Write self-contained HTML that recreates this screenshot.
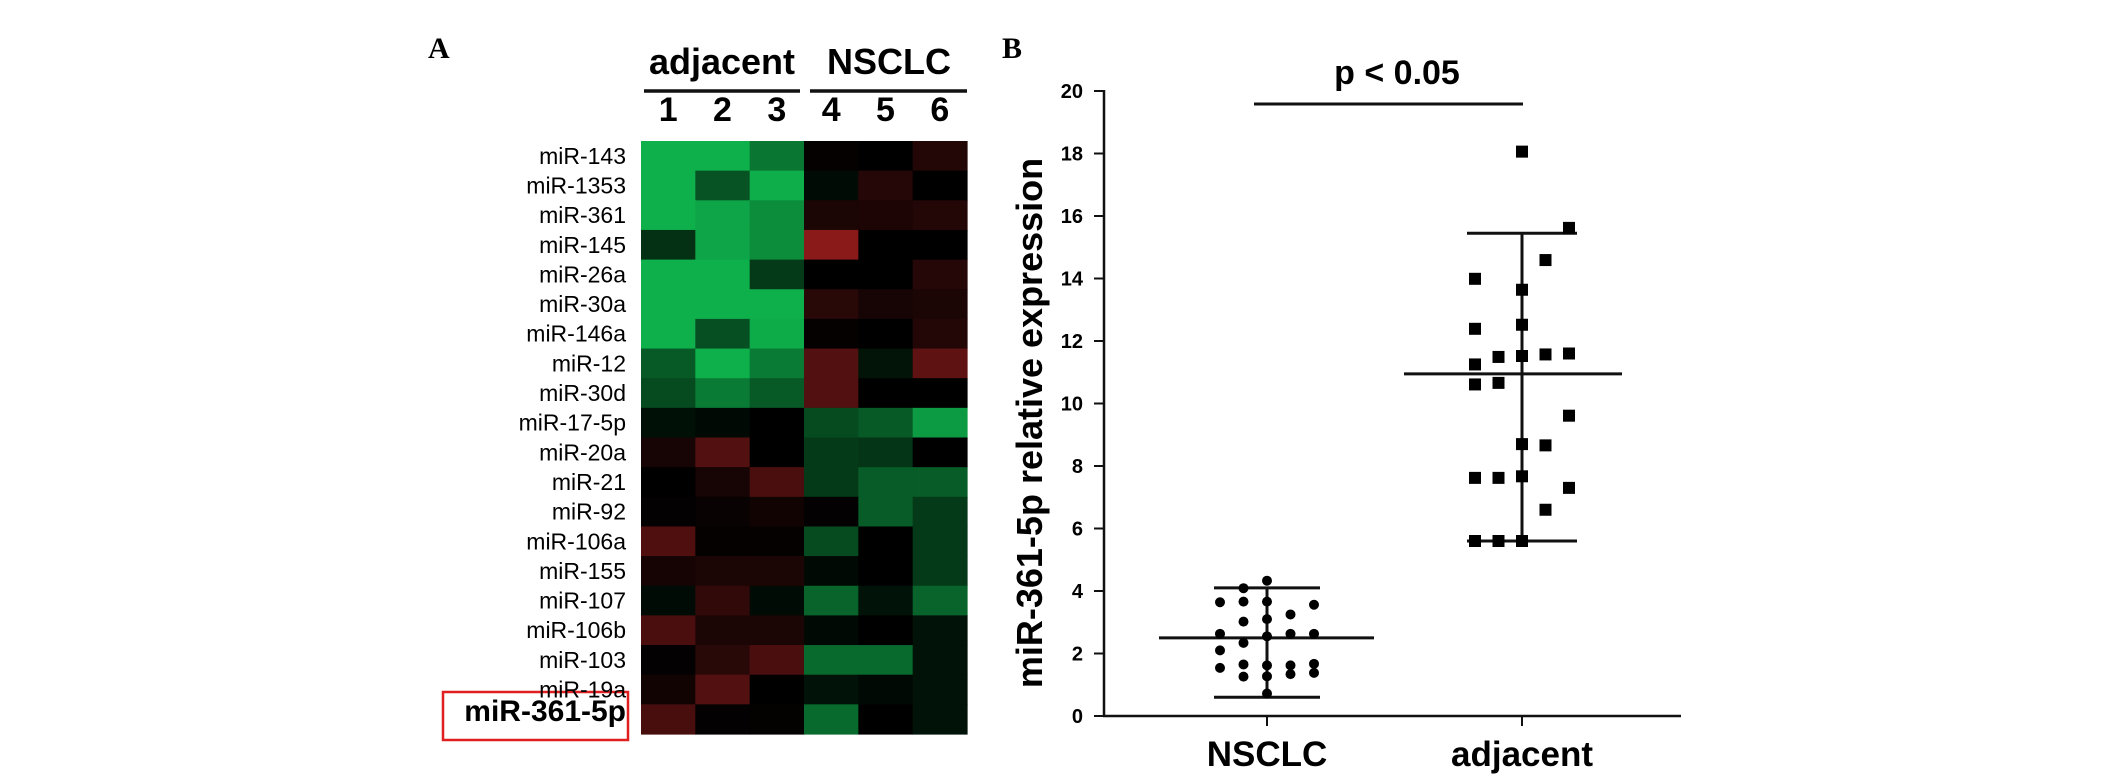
<!DOCTYPE html>
<html><head><meta charset="utf-8"><style>
html,body{margin:0;padding:0;background:#fff;}
svg{display:block;font-family:"Liberation Sans",Arial,sans-serif;}
</style></head><body>
<svg id="fig" width="2126" height="782" viewBox="0 0 2126 782">
<g id="panelA">
<text x="428" y="58" font-family="Liberation Serif,serif" font-weight="bold" font-size="30">A</text>
<text x="722" y="74" font-weight="bold" font-size="36" text-anchor="middle">adjacent</text>
<text x="889" y="74" font-weight="bold" font-size="36" text-anchor="middle">NSCLC</text>
<line x1="644" y1="91" x2="800" y2="91" stroke="#111" stroke-width="3.5"/>
<line x1="810" y1="91" x2="967" y2="91" stroke="#111" stroke-width="3.5"/>
<rect x="443" y="692" width="185" height="48" fill="none" stroke="#e02020" stroke-width="2.5"/>
</g>
<g id="panelB">
<text x="1002" y="58" font-family="Liberation Serif,serif" font-weight="bold" font-size="30">B</text>
<text x="1397" y="84" font-weight="bold" font-size="34" text-anchor="middle">p &lt; 0.05</text>
<line x1="1254" y1="104" x2="1523" y2="104" stroke="#111" stroke-width="3"/>
<text transform="translate(1042,423) rotate(-90)" font-weight="bold" font-size="36" text-anchor="middle">miR-361-5p relative expression</text>
<line x1="1104" y1="90" x2="1104" y2="717" stroke="#111" stroke-width="2.5"/>
<line x1="1103" y1="716" x2="1681" y2="716" stroke="#111" stroke-width="2.5"/>
</g>
</svg>
<script>
// Heatmap data
const hmRows = ["miR-143","miR-1353","miR-361","miR-145","miR-26a","miR-30a","miR-146a","miR-12","miR-30d","miR-17-5p","miR-20a","miR-21","miR-92","miR-106a","miR-155","miR-107","miR-106b","miR-103","miR-19a","miR-361-5p"];
const hmCols = ["1","2","3","4","5","6"];
const hmValues = [
[1.0,1.0,0.67,-0.04,-0.01,-0.25],
[1.0,0.47,0.99,0.06,-0.27,0],
[1.0,0.94,0.8,-0.2,-0.21,-0.25],
[0.27,0.94,0.8,-1.0,-0.01,0],
[1.0,1.0,0.33,-0.01,-0.01,-0.27],
[1.0,1.0,1.0,-0.3,-0.17,-0.2],
[1.0,0.45,0.97,-0.04,-0.01,-0.25],
[0.51,1.0,0.7,-0.6,0.11,-0.68],
[0.42,0.7,0.51,-0.6,0,0],
[0.09,0.05,0,0.42,0.51,0.88],
[-0.17,-0.6,0,0.33,0.3,-0.01],
[-0.01,-0.17,-0.54,0.33,0.52,0.52],
[-0.02,-0.06,-0.13,-0.02,0.52,0.33],
[-0.58,-0.04,-0.04,0.42,-0.01,0.33],
[-0.16,-0.2,-0.2,0.05,-0.01,0.33],
[0.06,-0.36,0.06,0.57,0.1,0.57],
[-0.54,-0.2,-0.2,0.05,-0.01,0.1],
[-0.02,-0.3,-0.54,0.6,0.6,0.1],
[-0.13,-0.6,-0.01,0.1,0.05,0.1],
[-0.52,-0.02,-0.03,0.6,-0.01,0.1]
];
// Scatter data
const groups = ["NSCLC","adjacent"];
const yTicks = [0,2,4,6,8,10,12,14,16,18,20];
const nsclcValues = [4.09,4.33,3.64,3.66,3.66,3.56,3.25,3.02,3.10,2.63,2.55,2.63,2.63,2.34,2.10,1.54,1.65,1.62,1.62,1.67,1.26,1.27,1.34,1.38,0.72];
const nsclcSlots = [-1,0,-2,-1,0,2,1,-1,0,-2,0,1,2,-1,-2,-2,-1,0,1,2,-1,0,1,2,0];
const adjValues = [18.06,15.62,14.59,13.99,13.64,12.39,12.52,11.25,11.49,11.52,11.57,11.60,10.61,10.66,9.61,8.70,8.66,7.62,7.62,7.67,7.30,6.60,5.60,5.60,5.60];
const adjSlots = [0,2,1,-2,0,-2,0,-2,-1,0,1,2,-2,-1,2,0,1,-2,-1,0,2,1,-2,-1,0];
const nsclcStats = [2.5,4.1,0.6];
const adjStats = [10.95,15.45,5.6];

const NS="http://www.w3.org/2000/svg";
const gA=document.getElementById('panelA');
const gB=document.getElementById('panelB');
function mk(tag,attrs,parent){const e=document.createElementNS(NS,tag);for(const k in attrs)e.setAttribute(k,attrs[k]);parent.appendChild(e);return e;}

const hmX0=641,hmX1=967,hmY0=141,hmY1=734;
const cw=(hmX1-hmX0)/hmCols.length, rh=(hmY1-hmY0)/hmRows.length;
function colX(i){return hmX0+i*cw;}
function rowY(j){return hmY0+j*rh;}
function colorOf(v){
  if(v>=0){return `rgb(${Math.round(14*v)},${Math.round(176*v)},${Math.round(75*v)})`;}
  const a=-v;return `rgb(${Math.round(138*a)},${Math.round(26*a)},${Math.round(26*a)})`;
}
hmCols.forEach((c,i)=>{
  const t=mk('text',{x:colX(i)+cw/2,y:121,'font-weight':'bold','font-size':34,'text-anchor':'middle'},gA);
  t.textContent=c;
  
  
});
hmRows.forEach((r,j)=>{
  const last=j===hmRows.length-1;
  const t=mk('text',{x:626,y:rowY(j)+rh/2+(last?2:8),'font-size':last?30:23,'font-weight':last?'bold':'normal','text-anchor':'end'},gA);
  t.textContent=r;
  
  
  hmValues[j].forEach((v,i)=>{
    const c=mk('rect',{x:colX(i),y:rowY(j),width:cw+0.6,height:rh+0.6,fill:colorOf(v)},gA);
    
    
  });
});

const yBase=716, yPer=31.25;
function yS(v){return yBase-v*yPer;}
const gx=[1267,1522];
function xS(g){return gx[groups.indexOf(g)];}
yTicks.forEach(v=>{
  const l=mk('line',{x1:1094,y1:yS(v),x2:1104,y2:yS(v),stroke:'#111','stroke-width':2},gB);
  
  
  const t=mk('text',{x:1083,y:yS(v)+7,'font-weight':'bold','font-size':20,'text-anchor':'end'},gB);
  t.textContent=v;
  
  
});
groups.forEach(g=>{
  const l=mk('line',{x1:xS(g),y1:716,x2:xS(g),y2:726,stroke:'#111','stroke-width':2},gB);
  
  
  const t=mk('text',{x:xS(g),y:766,'font-weight':'bold','font-size':35,'text-anchor':'middle'},gB);
  t.textContent=g;
  
  
});
function errBars(g,stats,ml,mr,eh){
  const x=xS(g);
  const a=mk('line',{x1:x-ml,y1:yS(stats[0]),x2:x+mr,y2:yS(stats[0]),stroke:'#111','stroke-width':3},gB);
  
  
  const b=mk('line',{x1:x,y1:yS(stats[1]),x2:x,y2:yS(stats[2]),stroke:'#111','stroke-width':3},gB);
  
  
  [stats[1],stats[2]].forEach(v=>{
    const c=mk('line',{x1:x-eh,y1:yS(v),x2:x+eh,y2:yS(v),stroke:'#111','stroke-width':3},gB);
    
    
  });
}
errBars('NSCLC',nsclcStats,108,107,53);
errBars('adjacent',adjStats,118,100,55);
nsclcValues.forEach((v,i)=>{
  const c=mk('circle',{cx:xS('NSCLC')+nsclcSlots[i]*23.5,cy:yS(v),r:5,fill:'#000'},gB);
  
  
});
adjValues.forEach((v,i)=>{
  const r=mk('rect',{x:xS('adjacent')+adjSlots[i]*23.5-6,y:yS(v)-6,width:12,height:12,fill:'#000'},gB);
  
  
});
</script>
</body></html>
